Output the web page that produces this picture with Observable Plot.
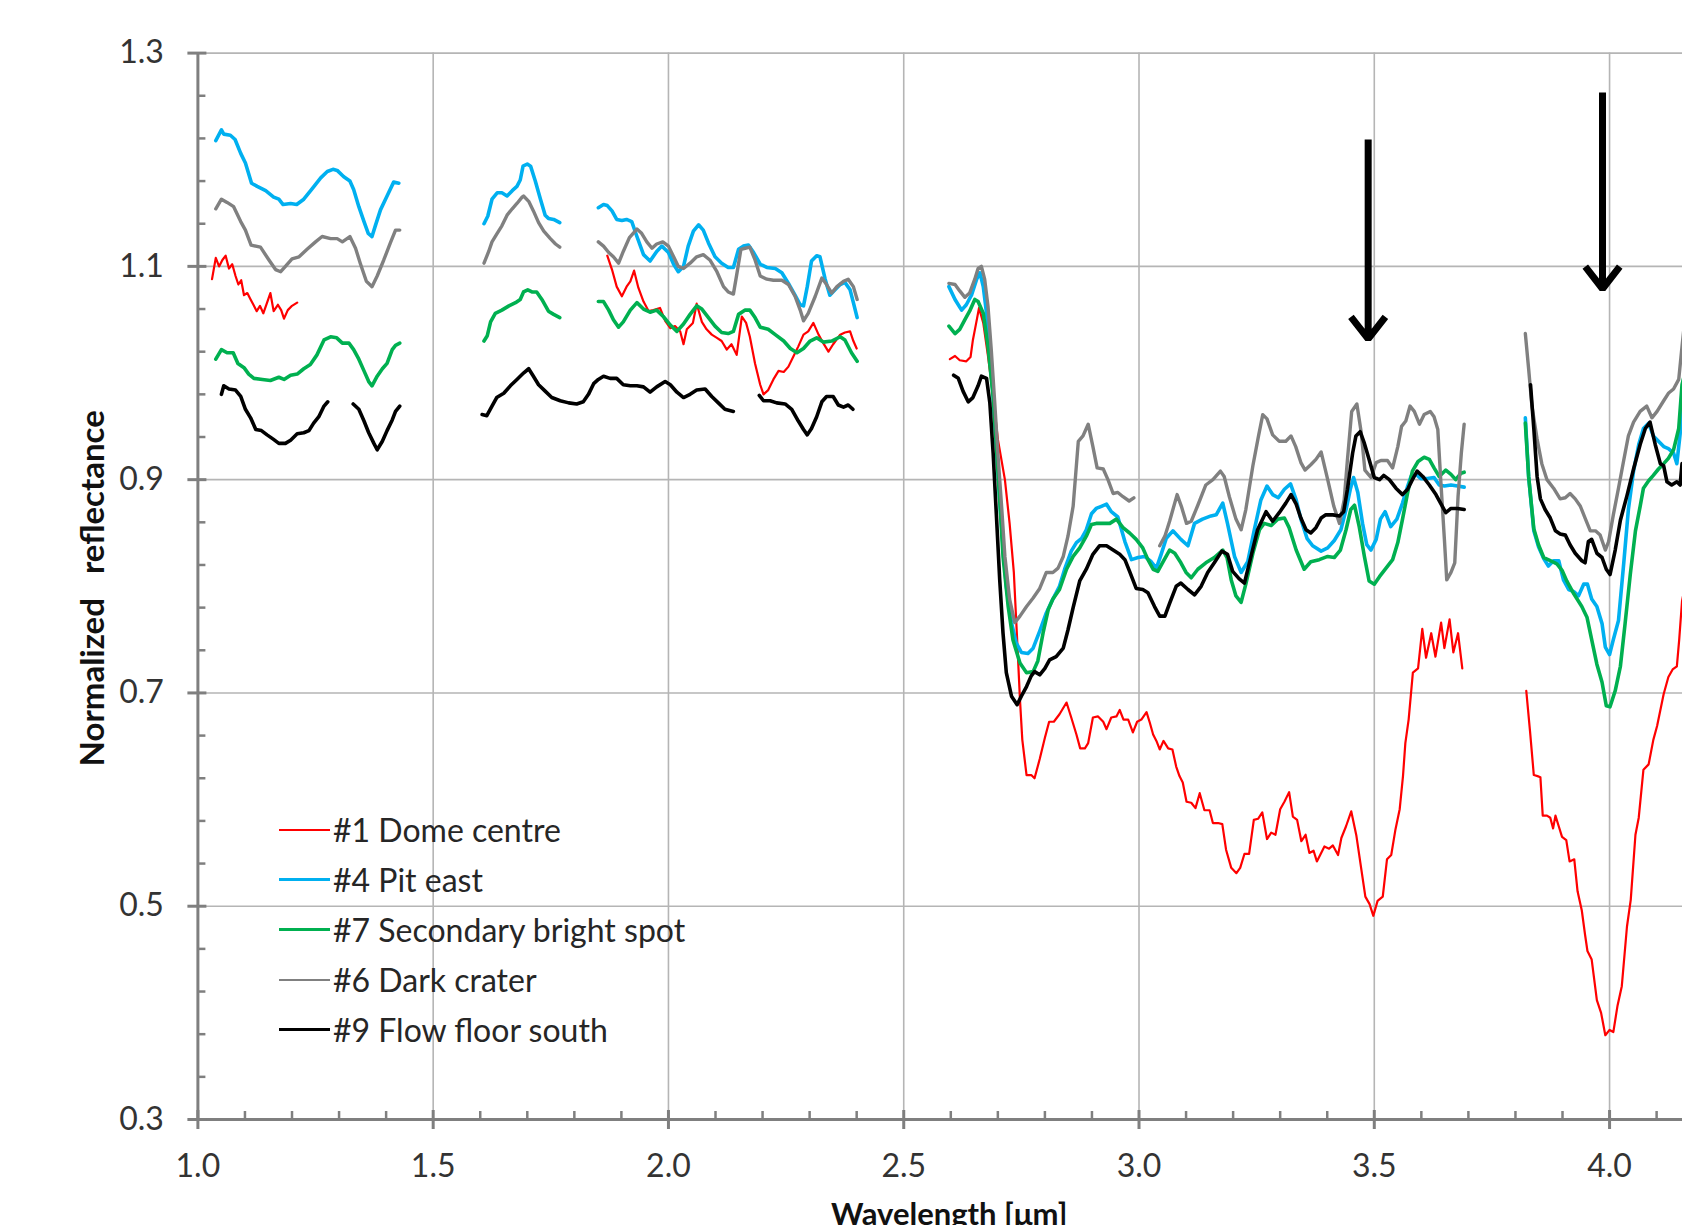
<!DOCTYPE html>
<html><head><meta charset="utf-8">
<script src="https://cdn.jsdelivr.net/npm/d3@7"></script>
<script src="https://cdn.jsdelivr.net/npm/@observablehq/plot@0.6"></script>
<style>
body{margin:0;background:#fff;}
#wrap{position:relative;width:1682px;height:1225px;overflow:hidden;font-family:Lato,"Open Sans",sans-serif;background:#fff;}
#legend{position:absolute;left:279px;top:805px;}
.row{display:flex;align-items:center;height:49.9px;font-size:32px;color:#262626;white-space:nowrap;}
.sw{width:51px;margin-right:3px;}
</style></head><body><div id="wrap"><div id="legend"></div></div>
<script>
// ---- series (wavelength µm, normalized reflectance); null = gap ----
const domeCentre = [
[1.030,1.088],[1.038,1.108],[1.045,1.100],[1.052,1.106],[1.059,1.110],[1.066,1.098],[1.073,1.102],[1.080,1.091],[1.086,1.083],[1.092,1.087],[1.098,1.073],[1.105,1.075],[1.112,1.069],[1.118,1.064],[1.125,1.058],[1.132,1.063],[1.139,1.056],[1.147,1.066],[1.154,1.075],[1.161,1.058],[1.170,1.064],[1.177,1.059],[1.183,1.051],[1.191,1.059],[1.200,1.063],[1.211,1.066],
null,
[1.870,1.110],[1.880,1.097],[1.890,1.081],[1.901,1.072],[1.911,1.081],[1.919,1.086],[1.927,1.096],[1.936,1.080],[1.947,1.067],[1.958,1.058],[1.968,1.059],[1.982,1.061],[1.993,1.049],[2.004,1.042],[2.014,1.044],[2.025,1.039],[2.032,1.027],[2.039,1.041],[2.052,1.047],[2.060,1.065],[2.071,1.048],[2.081,1.041],[2.092,1.036],[2.103,1.033],[2.113,1.030],[2.124,1.022],[2.134,1.027],[2.145,1.017],[2.156,1.053],[2.165,1.047],[2.173,1.034],[2.184,1.009],[2.195,0.989],[2.202,0.980],[2.212,0.984],[2.223,0.994],[2.234,1.002],[2.245,1.001],[2.255,1.006],[2.266,1.016],[2.276,1.025],[2.287,1.036],[2.297,1.039],[2.308,1.047],[2.319,1.036],[2.329,1.028],[2.340,1.020],[2.350,1.027],[2.365,1.036],[2.375,1.038],[2.386,1.039],[2.393,1.030],[2.400,1.023],
null,
[2.598,1.013],[2.609,1.016],[2.619,1.012],[2.633,1.011],[2.642,1.015],[2.647,1.031],[2.654,1.047],[2.660,1.061],[2.669,1.047],[2.679,1.016],[2.690,0.978],[2.700,0.938],[2.715,0.900],[2.725,0.859],[2.734,0.813],[2.741,0.750],[2.747,0.694],[2.752,0.656],[2.761,0.623],[2.771,0.623],[2.778,0.620],[2.789,0.638],[2.800,0.658],[2.809,0.673],[2.819,0.673],[2.831,0.680],[2.846,0.691],[2.856,0.677],[2.867,0.661],[2.875,0.648],[2.885,0.648],[2.892,0.653],[2.902,0.677],[2.913,0.678],[2.924,0.673],[2.931,0.666],[2.941,0.677],[2.952,0.678],[2.959,0.684],[2.967,0.675],[2.977,0.675],[2.987,0.663],[2.996,0.673],[3.005,0.675],[3.016,0.682],[3.023,0.672],[3.030,0.661],[3.037,0.655],[3.044,0.647],[3.052,0.655],[3.062,0.648],[3.071,0.647],[3.079,0.631],[3.086,0.622],[3.093,0.616],[3.101,0.598],[3.111,0.597],[3.120,0.592],[3.129,0.606],[3.139,0.590],[3.150,0.590],[3.157,0.578],[3.168,0.578],[3.177,0.577],[3.185,0.553],[3.196,0.536],[3.207,0.531],[3.215,0.536],[3.224,0.549],[3.234,0.549],[3.244,0.581],[3.253,0.582],[3.262,0.588],[3.272,0.563],[3.281,0.569],[3.290,0.567],[3.300,0.591],[3.309,0.598],[3.319,0.607],[3.327,0.584],[3.336,0.581],[3.345,0.561],[3.354,0.567],[3.362,0.550],[3.371,0.552],[3.378,0.542],[3.385,0.548],[3.394,0.556],[3.404,0.554],[3.412,0.557],[3.423,0.548],[3.430,0.564],[3.440,0.575],[3.451,0.589],[3.462,0.566],[3.472,0.536],[3.481,0.509],[3.490,0.502],[3.498,0.491],[3.507,0.505],[3.518,0.509],[3.527,0.544],[3.536,0.548],[3.545,0.572],[3.554,0.591],[3.561,0.622],[3.566,0.653],[3.573,0.675],[3.582,0.719],[3.593,0.723],[3.602,0.760],[3.610,0.733],[3.621,0.756],[3.630,0.734],[3.642,0.766],[3.649,0.742],[3.660,0.769],[3.668,0.738],[3.678,0.756],[3.687,0.723],
null,
[3.823,0.702],[3.831,0.664],[3.839,0.623],[3.847,0.622],[3.853,0.621],[3.858,0.585],[3.867,0.585],[3.874,0.583],[3.880,0.573],[3.885,0.585],[3.892,0.575],[3.899,0.565],[3.908,0.562],[3.915,0.542],[3.925,0.544],[3.932,0.514],[3.941,0.496],[3.948,0.473],[3.953,0.458],[3.962,0.450],[3.973,0.412],[3.982,0.400],[3.991,0.379],[4.000,0.384],[4.008,0.382],[4.017,0.407],[4.026,0.425],[4.037,0.481],[4.045,0.506],[4.055,0.567],[4.062,0.583],[4.072,0.628],[4.083,0.633],[4.093,0.656],[4.101,0.669],[4.115,0.699],[4.125,0.715],[4.134,0.722],[4.143,0.725],[4.148,0.750],[4.154,0.786],[4.160,0.800]
];
const pitEast = [
[1.038,1.218],[1.050,1.228],[1.055,1.224],[1.069,1.223],[1.079,1.219],[1.091,1.206],[1.101,1.197],[1.114,1.178],[1.126,1.175],[1.144,1.171],[1.161,1.165],[1.172,1.163],[1.181,1.158],[1.197,1.159],[1.210,1.158],[1.225,1.163],[1.243,1.173],[1.261,1.183],[1.275,1.189],[1.287,1.191],[1.296,1.190],[1.310,1.184],[1.323,1.180],[1.331,1.172],[1.342,1.156],[1.353,1.142],[1.362,1.131],[1.370,1.128],[1.377,1.138],[1.388,1.153],[1.402,1.166],[1.416,1.179],[1.427,1.178],
null,
[1.608,1.140],[1.616,1.147],[1.625,1.163],[1.636,1.169],[1.646,1.169],[1.657,1.166],[1.668,1.171],[1.678,1.175],[1.685,1.181],[1.691,1.194],[1.700,1.196],[1.707,1.194],[1.717,1.180],[1.728,1.163],[1.738,1.148],[1.745,1.145],[1.756,1.144],[1.769,1.141],
null,
[1.851,1.155],[1.862,1.158],[1.870,1.157],[1.880,1.152],[1.890,1.144],[1.901,1.143],[1.911,1.144],[1.922,1.142],[1.933,1.128],[1.947,1.111],[1.961,1.105],[1.975,1.114],[1.986,1.119],[2.000,1.113],[2.011,1.102],[2.021,1.095],[2.032,1.100],[2.042,1.119],[2.053,1.133],[2.064,1.139],[2.074,1.134],[2.085,1.122],[2.099,1.109],[2.113,1.103],[2.127,1.099],[2.138,1.099],[2.149,1.116],[2.159,1.119],[2.170,1.120],[2.181,1.113],[2.195,1.102],[2.209,1.099],[2.227,1.098],[2.241,1.094],[2.255,1.084],[2.269,1.073],[2.280,1.064],[2.287,1.063],[2.295,1.081],[2.304,1.105],[2.315,1.110],[2.322,1.109],[2.333,1.088],[2.343,1.073],[2.354,1.078],[2.365,1.083],[2.375,1.085],[2.386,1.078],[2.393,1.066],[2.401,1.052],
null,
[2.596,1.081],[2.609,1.069],[2.623,1.059],[2.633,1.064],[2.644,1.073],[2.655,1.088],[2.662,1.094],[2.669,1.081],[2.676,1.056],[2.683,1.022],[2.690,0.978],[2.697,0.931],[2.704,0.881],[2.711,0.838],[2.718,0.800],[2.729,0.766],[2.739,0.747],[2.750,0.738],[2.764,0.737],[2.775,0.742],[2.789,0.758],[2.803,0.775],[2.817,0.788],[2.831,0.800],[2.842,0.816],[2.856,0.833],[2.867,0.841],[2.878,0.845],[2.888,0.853],[2.899,0.868],[2.909,0.873],[2.920,0.875],[2.931,0.877],[2.941,0.870],[2.955,0.865],[2.970,0.842],[2.984,0.825],[2.998,0.827],[3.012,0.828],[3.026,0.823],[3.037,0.817],[3.047,0.830],[3.058,0.845],[3.072,0.852],[3.089,0.844],[3.104,0.838],[3.118,0.859],[3.135,0.863],[3.153,0.866],[3.164,0.867],[3.178,0.878],[3.188,0.859],[3.203,0.828],[3.217,0.813],[3.231,0.823],[3.245,0.853],[3.259,0.881],[3.272,0.894],[3.284,0.886],[3.296,0.883],[3.309,0.891],[3.322,0.896],[3.334,0.881],[3.344,0.863],[3.357,0.845],[3.369,0.838],[3.387,0.833],[3.401,0.836],[3.415,0.843],[3.429,0.853],[3.440,0.872],[3.449,0.891],[3.456,0.902],[3.465,0.888],[3.475,0.859],[3.484,0.839],[3.493,0.834],[3.504,0.844],[3.513,0.863],[3.523,0.870],[3.535,0.856],[3.548,0.863],[3.560,0.878],[3.571,0.894],[3.578,0.903],[3.589,0.905],[3.599,0.901],[3.613,0.901],[3.627,0.902],[3.638,0.895],[3.649,0.894],[3.663,0.895],[3.677,0.894],[3.691,0.893],
null,
[3.821,0.958],[3.828,0.903],[3.839,0.852],[3.849,0.837],[3.860,0.826],[3.870,0.819],[3.881,0.824],[3.892,0.824],[3.902,0.806],[3.913,0.797],[3.924,0.795],[3.934,0.791],[3.945,0.802],[3.953,0.802],[3.962,0.788],[3.973,0.781],[3.984,0.765],[3.991,0.743],[4.000,0.736],[4.008,0.750],[4.019,0.768],[4.030,0.821],[4.040,0.872],[4.051,0.908],[4.062,0.933],[4.072,0.948],[4.083,0.953],[4.093,0.941],[4.104,0.936],[4.115,0.931],[4.125,0.929],[4.136,0.925],[4.143,0.915],[4.150,0.943],[4.154,0.984],[4.160,1.000]
];
const secondaryBrightSpot = [
[1.038,1.013],[1.050,1.022],[1.062,1.019],[1.075,1.019],[1.085,1.009],[1.098,1.005],[1.108,0.999],[1.119,0.995],[1.137,0.994],[1.154,0.993],[1.172,0.996],[1.183,0.994],[1.197,0.998],[1.211,0.999],[1.225,1.004],[1.239,1.008],[1.253,1.017],[1.268,1.031],[1.282,1.034],[1.295,1.033],[1.307,1.028],[1.321,1.028],[1.331,1.022],[1.342,1.013],[1.353,1.002],[1.363,0.992],[1.370,0.988],[1.381,0.997],[1.392,1.004],[1.402,1.009],[1.413,1.022],[1.420,1.026],[1.429,1.028],
null,
[1.608,1.030],[1.615,1.035],[1.622,1.048],[1.632,1.056],[1.646,1.059],[1.661,1.063],[1.675,1.066],[1.685,1.069],[1.692,1.076],[1.701,1.078],[1.710,1.076],[1.720,1.076],[1.731,1.069],[1.745,1.058],[1.756,1.055],[1.769,1.052],
null,
[1.851,1.067],[1.862,1.067],[1.873,1.059],[1.883,1.050],[1.894,1.043],[1.904,1.048],[1.919,1.059],[1.933,1.066],[1.947,1.060],[1.961,1.057],[1.975,1.059],[1.989,1.053],[2.004,1.045],[2.018,1.039],[2.032,1.046],[2.046,1.055],[2.060,1.063],[2.071,1.060],[2.085,1.052],[2.099,1.044],[2.113,1.038],[2.127,1.037],[2.138,1.039],[2.149,1.055],[2.163,1.059],[2.173,1.059],[2.184,1.052],[2.195,1.043],[2.212,1.041],[2.227,1.036],[2.245,1.030],[2.259,1.023],[2.273,1.019],[2.287,1.023],[2.301,1.030],[2.315,1.033],[2.329,1.029],[2.347,1.030],[2.365,1.034],[2.375,1.031],[2.389,1.019],[2.401,1.011],
null,
[2.596,1.044],[2.609,1.037],[2.619,1.041],[2.630,1.050],[2.640,1.058],[2.651,1.069],[2.658,1.067],[2.669,1.056],[2.679,1.025],[2.690,0.978],[2.697,0.931],[2.704,0.881],[2.711,0.828],[2.722,0.781],[2.732,0.750],[2.747,0.728],[2.761,0.719],[2.775,0.720],[2.785,0.730],[2.796,0.756],[2.807,0.778],[2.817,0.788],[2.831,0.797],[2.846,0.816],[2.860,0.828],[2.874,0.836],[2.888,0.847],[2.899,0.858],[2.909,0.859],[2.924,0.859],[2.938,0.859],[2.952,0.863],[2.966,0.855],[2.980,0.850],[2.994,0.844],[3.008,0.836],[3.019,0.825],[3.030,0.816],[3.040,0.814],[3.051,0.823],[3.065,0.834],[3.076,0.831],[3.089,0.822],[3.100,0.813],[3.111,0.808],[3.125,0.816],[3.142,0.822],[3.160,0.827],[3.178,0.834],[3.187,0.827],[3.196,0.806],[3.206,0.791],[3.217,0.785],[3.227,0.802],[3.242,0.831],[3.256,0.853],[3.266,0.859],[3.281,0.857],[3.295,0.863],[3.309,0.864],[3.319,0.855],[3.334,0.834],[3.351,0.816],[3.365,0.823],[3.383,0.825],[3.401,0.828],[3.415,0.827],[3.428,0.834],[3.440,0.853],[3.450,0.872],[3.458,0.876],[3.468,0.856],[3.479,0.828],[3.489,0.805],[3.500,0.802],[3.511,0.809],[3.525,0.817],[3.539,0.825],[3.550,0.841],[3.560,0.863],[3.571,0.888],[3.581,0.908],[3.593,0.917],[3.606,0.921],[3.617,0.919],[3.627,0.911],[3.638,0.903],[3.652,0.909],[3.663,0.905],[3.673,0.900],[3.684,0.906],[3.691,0.907],
null,
[3.821,0.953],[3.828,0.903],[3.839,0.854],[3.849,0.839],[3.860,0.827],[3.874,0.824],[3.888,0.821],[3.899,0.815],[3.909,0.805],[3.924,0.793],[3.941,0.781],[3.952,0.771],[3.962,0.750],[3.973,0.727],[3.984,0.710],[3.993,0.688],[4.001,0.687],[4.012,0.702],[4.023,0.725],[4.033,0.765],[4.044,0.811],[4.055,0.852],[4.065,0.875],[4.072,0.892],[4.083,0.899],[4.093,0.904],[4.104,0.910],[4.115,0.915],[4.125,0.920],[4.136,0.928],[4.147,0.948],[4.154,0.989],[4.160,1.000]
];
const darkCrater = [
[1.038,1.154],[1.050,1.163],[1.062,1.160],[1.076,1.156],[1.091,1.142],[1.101,1.134],[1.113,1.120],[1.133,1.118],[1.151,1.106],[1.165,1.097],[1.176,1.095],[1.186,1.100],[1.200,1.107],[1.215,1.109],[1.232,1.116],[1.250,1.123],[1.264,1.128],[1.282,1.126],[1.296,1.126],[1.307,1.123],[1.323,1.128],[1.335,1.117],[1.345,1.103],[1.358,1.086],[1.370,1.081],[1.381,1.091],[1.395,1.106],[1.409,1.122],[1.420,1.134],[1.429,1.134],
null,
[1.608,1.103],[1.618,1.114],[1.625,1.123],[1.636,1.131],[1.646,1.138],[1.657,1.148],[1.668,1.154],[1.678,1.159],[1.689,1.165],[1.692,1.166],[1.703,1.161],[1.713,1.152],[1.724,1.141],[1.735,1.133],[1.749,1.126],[1.760,1.121],[1.769,1.118],
null,
[1.851,1.123],[1.862,1.119],[1.873,1.113],[1.883,1.109],[1.894,1.103],[1.904,1.114],[1.917,1.127],[1.933,1.135],[1.943,1.131],[1.954,1.123],[1.965,1.117],[1.975,1.121],[1.988,1.123],[2.000,1.119],[2.011,1.109],[2.021,1.100],[2.032,1.098],[2.046,1.103],[2.060,1.109],[2.074,1.111],[2.088,1.106],[2.103,1.095],[2.117,1.081],[2.127,1.076],[2.138,1.074],[2.145,1.092],[2.154,1.116],[2.163,1.117],[2.173,1.118],[2.184,1.106],[2.195,1.091],[2.209,1.088],[2.223,1.087],[2.241,1.087],[2.255,1.083],[2.269,1.072],[2.280,1.059],[2.287,1.049],[2.297,1.056],[2.312,1.072],[2.326,1.089],[2.336,1.083],[2.347,1.075],[2.358,1.081],[2.372,1.086],[2.382,1.088],[2.393,1.081],[2.401,1.069],
null,
[2.596,1.084],[2.609,1.083],[2.619,1.077],[2.630,1.071],[2.640,1.075],[2.651,1.088],[2.658,1.098],[2.665,1.100],[2.672,1.088],[2.679,1.063],[2.686,1.022],[2.693,0.975],[2.700,0.925],[2.708,0.875],[2.715,0.828],[2.725,0.788],[2.736,0.766],[2.747,0.772],[2.761,0.781],[2.775,0.789],[2.789,0.798],[2.803,0.813],[2.817,0.813],[2.828,0.817],[2.839,0.828],[2.849,0.847],[2.860,0.875],[2.871,0.936],[2.881,0.941],[2.892,0.952],[2.902,0.931],[2.911,0.911],[2.924,0.910],[2.934,0.900],[2.945,0.887],[2.955,0.888],[2.966,0.884],[2.979,0.880],[2.989,0.883],
null,
[3.044,0.838],[3.055,0.847],[3.065,0.861],[3.081,0.886],[3.090,0.875],[3.101,0.859],[3.111,0.861],[3.125,0.876],[3.142,0.895],[3.157,0.900],[3.173,0.908],[3.181,0.903],[3.192,0.884],[3.206,0.863],[3.217,0.853],[3.227,0.872],[3.242,0.913],[3.254,0.941],[3.263,0.961],[3.272,0.957],[3.284,0.942],[3.298,0.936],[3.312,0.936],[3.323,0.941],[3.333,0.931],[3.344,0.916],[3.353,0.909],[3.365,0.914],[3.376,0.919],[3.387,0.926],[3.401,0.900],[3.414,0.875],[3.426,0.859],[3.436,0.881],[3.443,0.919],[3.452,0.964],[3.463,0.971],[3.472,0.945],[3.480,0.909],[3.493,0.902],[3.504,0.916],[3.514,0.918],[3.528,0.918],[3.539,0.911],[3.550,0.931],[3.558,0.950],[3.567,0.955],[3.576,0.969],[3.585,0.964],[3.596,0.952],[3.606,0.961],[3.619,0.964],[3.627,0.959],[3.635,0.947],[3.642,0.894],[3.649,0.844],[3.654,0.806],[3.663,0.813],[3.671,0.822],[3.678,0.884],[3.685,0.925],[3.691,0.952],
null,
[3.821,1.037],[3.828,1.004],[3.835,0.969],[3.846,0.938],[3.856,0.915],[3.867,0.900],[3.881,0.892],[3.895,0.882],[3.906,0.883],[3.916,0.887],[3.927,0.882],[3.938,0.875],[3.948,0.864],[3.959,0.852],[3.970,0.852],[3.980,0.848],[3.991,0.834],[3.998,0.842],[4.008,0.867],[4.019,0.892],[4.030,0.918],[4.040,0.941],[4.051,0.954],[4.065,0.964],[4.079,0.969],[4.090,0.958],[4.101,0.964],[4.115,0.974],[4.125,0.981],[4.136,0.985],[4.147,0.994],[4.154,1.025],[4.160,1.050]
];
const flowFloorSouth = [
[1.050,0.980],[1.055,0.988],[1.066,0.985],[1.080,0.984],[1.091,0.978],[1.101,0.966],[1.112,0.958],[1.123,0.947],[1.135,0.946],[1.147,0.942],[1.160,0.938],[1.172,0.934],[1.186,0.934],[1.197,0.937],[1.211,0.943],[1.225,0.944],[1.236,0.946],[1.246,0.953],[1.257,0.959],[1.268,0.969],[1.276,0.973],
null,
[1.330,0.971],[1.342,0.966],[1.353,0.955],[1.363,0.944],[1.374,0.934],[1.381,0.928],[1.392,0.936],[1.402,0.946],[1.413,0.956],[1.420,0.964],[1.429,0.969],
null,
[1.604,0.961],[1.614,0.960],[1.625,0.969],[1.635,0.977],[1.650,0.981],[1.664,0.988],[1.678,0.994],[1.692,1.000],[1.703,1.004],[1.713,0.997],[1.724,0.989],[1.738,0.983],[1.752,0.977],[1.770,0.974],[1.788,0.972],[1.805,0.971],[1.819,0.973],[1.830,0.980],[1.841,0.990],[1.851,0.994],[1.862,0.997],[1.876,0.995],[1.890,0.995],[1.904,0.989],[1.919,0.988],[1.933,0.988],[1.947,0.987],[1.961,0.982],[1.975,0.987],[1.993,0.992],[2.004,0.989],[2.018,0.982],[2.032,0.977],[2.046,0.980],[2.060,0.984],[2.078,0.985],[2.092,0.978],[2.106,0.972],[2.120,0.966],[2.138,0.964],
null,
[2.193,0.979],[2.202,0.974],[2.216,0.974],[2.230,0.972],[2.248,0.971],[2.262,0.966],[2.276,0.955],[2.287,0.947],[2.295,0.942],[2.304,0.948],[2.315,0.959],[2.326,0.973],[2.336,0.978],[2.350,0.978],[2.361,0.970],[2.372,0.968],[2.382,0.970],[2.392,0.966],
null,
[2.606,0.998],[2.616,0.995],[2.626,0.983],[2.637,0.973],[2.647,0.977],[2.658,0.988],[2.665,0.997],[2.676,0.995],[2.683,0.972],[2.690,0.925],[2.697,0.866],[2.704,0.806],[2.711,0.756],[2.718,0.719],[2.729,0.697],[2.741,0.689],[2.750,0.697],[2.761,0.706],[2.771,0.716],[2.778,0.720],[2.789,0.717],[2.800,0.723],[2.810,0.731],[2.824,0.734],[2.839,0.742],[2.849,0.759],[2.860,0.780],[2.874,0.805],[2.888,0.816],[2.902,0.830],[2.916,0.838],[2.931,0.838],[2.945,0.834],[2.959,0.830],[2.970,0.825],[2.980,0.814],[2.994,0.798],[3.008,0.797],[3.019,0.794],[3.033,0.781],[3.044,0.772],[3.055,0.772],[3.065,0.784],[3.079,0.800],[3.089,0.803],[3.104,0.797],[3.118,0.792],[3.132,0.800],[3.146,0.813],[3.160,0.822],[3.176,0.833],[3.188,0.830],[3.199,0.814],[3.213,0.807],[3.224,0.803],[3.238,0.828],[3.252,0.853],[3.270,0.870],[3.284,0.861],[3.298,0.869],[3.312,0.878],[3.323,0.886],[3.334,0.877],[3.344,0.864],[3.355,0.853],[3.365,0.850],[3.376,0.855],[3.387,0.864],[3.397,0.867],[3.412,0.867],[3.426,0.866],[3.435,0.870],[3.443,0.891],[3.454,0.925],[3.461,0.941],[3.470,0.945],[3.479,0.934],[3.489,0.919],[3.500,0.902],[3.511,0.900],[3.520,0.904],[3.532,0.900],[3.546,0.892],[3.560,0.886],[3.571,0.891],[3.581,0.900],[3.591,0.908],[3.603,0.903],[3.617,0.895],[3.631,0.886],[3.642,0.877],[3.652,0.869],[3.663,0.873],[3.677,0.873],[3.691,0.872],
null,
[3.832,0.989],[3.839,0.948],[3.846,0.903],[3.853,0.882],[3.863,0.872],[3.874,0.864],[3.885,0.852],[3.895,0.849],[3.906,0.848],[3.916,0.839],[3.927,0.831],[3.941,0.824],[3.948,0.822],[3.955,0.842],[3.962,0.844],[3.973,0.831],[3.984,0.827],[3.993,0.816],[4.001,0.811],[4.012,0.834],[4.023,0.862],[4.037,0.885],[4.051,0.910],[4.065,0.933],[4.076,0.948],[4.086,0.954],[4.097,0.933],[4.108,0.915],[4.115,0.913],[4.122,0.898],[4.132,0.895],[4.143,0.898],[4.150,0.895],[4.154,0.915]
];

const seriesNames = ["#1 Dome centre","#4 Pit east","#7 Secondary bright spot","#6 Dark crater","#9 Flow floor south"];
const seriesData = [domeCentre, pitEast, secondaryBrightSpot, darkCrater, flowFloorSouth];
const seriesColors = ["#ff0000","#00b0f0","#00b050","#808080","#000000"];
const seriesWidths = [2.2, 3.6, 3.6, 3.4, 3.6];

const xMajorTicks = [1.0,1.5,2.0,2.5,3.0,3.5,4.0];
const xMinorTicks = [1.1,1.2,1.3,1.4,1.6,1.7,1.8,1.9,2.1,2.2,2.3,2.4,2.6,2.7,2.8,2.9,3.1,3.2,3.3,3.4,3.6,3.7,3.8,3.9,4.1];
const yMajorTicks = [0.3,0.5,0.7,0.9,1.1,1.3];
const yMinorTicks = [0.34,0.38,0.42,0.46,0.54,0.58,0.62,0.66,0.74,0.78,0.82,0.86,0.94,0.98,1.02,1.06,1.14,1.18,1.22,1.26];

// annotation arrows (x, start, tip)
const arrowX = [3.487, 3.985];
const arrowTop = [1.219, 1.263];
const arrowTip = [1.032, 1.079];

const W = 1682, H = 1225, mL = 197.4, mT = 52.6, mB = 106, mR = 0;
const plotW = W - mL - mR, plotH = H - mT - mB;
const axisColor = "#7f7f7f";

function rows(pts, name) {
  return pts.map(p => p ? {x: p[0], y: p[1], s: name} : {x: NaN, y: NaN, s: name});
}

const lineMarks = seriesData.map((pts, i) =>
  Plot.line(rows(pts, seriesNames[i]), {x: "x", y: "y", stroke: seriesColors[i], strokeWidth: seriesWidths[i], strokeLinejoin: "round"}));

const arrows = arrowX.map((x, i) => ({x, y1: arrowTop[i], y2: arrowTip[i]}));

const chart = Plot.plot({
  width: W, height: H,
  marginLeft: mL, marginTop: mT, marginBottom: mB, marginRight: mR,
  style: {fontFamily: "Lato, 'Open Sans', sans-serif", fontSize: "32px", background: "white", overflow: "hidden"},
  x: {domain: [1.0, 4.155], label: null},
  y: {domain: [0.3, 1.3], label: null},
  marks: [
    Plot.gridX(xMajorTicks, {stroke: "#b5b5b5", strokeOpacity: 1, strokeWidth: 1.6}),
    Plot.gridY(yMajorTicks, {stroke: "#b5b5b5", strokeOpacity: 1, strokeWidth: 1.6}),
    ...lineMarks,
    Plot.arrow(arrows, {x1: "x", x2: "x", y1: "y1", y2: "y2", stroke: "black", strokeWidth: 7, headLength: 6, headAngle: 76, strokeLinecap: "butt", strokeLinejoin: "miter"}),
    Plot.ruleX([1.0], {stroke: axisColor, strokeWidth: 3}),
    Plot.ruleY([0.3], {stroke: axisColor, strokeWidth: 3}),
    Plot.tickX(xMajorTicks, {x: d => d, insetTop: plotH - 9, insetBottom: -10, stroke: axisColor, strokeWidth: 3}),
    Plot.tickX(xMinorTicks, {x: d => d, insetTop: plotH - 8, stroke: axisColor, strokeWidth: 2.5}),
    Plot.tickY(yMajorTicks, {y: d => d, insetLeft: -10, insetRight: plotW - 9, stroke: axisColor, strokeWidth: 3}),
    Plot.tickY(yMinorTicks, {y: d => d, insetRight: plotW - 8, stroke: axisColor, strokeWidth: 2.5}),
    Plot.axisX(xMajorTicks, {tickSize: 0, tickPadding: 35, tickFormat: d => d.toFixed(1), color: "#333", fontSize: 32}),
    Plot.axisY(yMajorTicks, {tickSize: 0, tickPadding: 34, tickFormat: d => d.toFixed(1), color: "#333", fontSize: 32}),
    Plot.text(["Wavelength [μm]"], {text: d => d, frameAnchor: "bottom", dx: 9, dy: 96, fontSize: 31, fontWeight: "bold", fill: "#111", lineAnchor: "middle"}),
    Plot.text(["Normalized\u00a0\u00a0 reflectance"], {text: d => d, frameAnchor: "left", textAnchor: "middle", dx: -104, dy: 2, rotate: -90, fontSize: 33, fontWeight: "bold", fill: "#111", lineAnchor: "middle"})
  ]
});

const wrap = document.getElementById("wrap");
wrap.insertBefore(chart, wrap.firstChild);

const legend = document.getElementById("legend");
seriesNames.forEach((name, i) => {
  const row = document.createElement("div");
  row.className = "row";
  const sw = document.createElement("span");
  sw.className = "sw";
  sw.style.borderTop = `${i === 0 || i === 3 ? 2 : 3}px solid ${seriesColors[i]}`;
  row.appendChild(sw);
  const t = document.createElement("span");
  t.textContent = name;
  row.appendChild(t);
  legend.appendChild(row);
});
</script></body></html>
